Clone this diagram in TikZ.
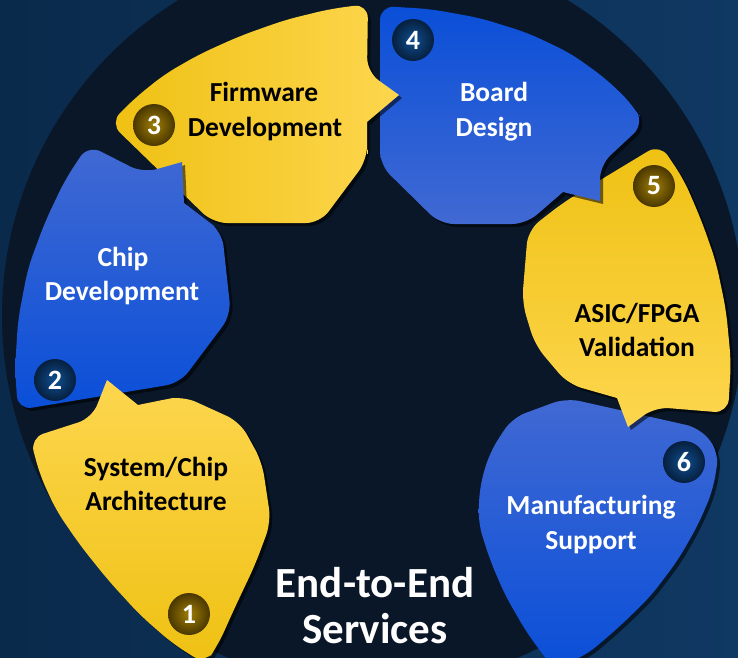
\documentclass[tikz,border=0pt]{standalone}
\usepackage{fontspec}
\setmainfont{Carlito}
\usetikzlibrary{shadows}
\definecolor{bgoutA}{HTML}{0A2A4B}
\definecolor{bgoutB}{HTML}{0F3862}
\definecolor{bgin}{HTML}{0A1729}
\definecolor{ylwA}{HTML}{EFC113}
\definecolor{ylwB}{HTML}{FDD64E}
\definecolor{bluA}{HTML}{0A4FD8}
\definecolor{bluB}{HTML}{4169D3}
\definecolor{goldIn}{HTML}{A07E06}
\definecolor{goldOut}{HTML}{4A3700}
\definecolor{navIn}{HTML}{0F4F90}
\definecolor{navOut}{HTML}{061F3E}
\tikzset{
  blob/.style={rounded corners=14pt,
    drop shadow={opacity=0.55, shadow xshift=3pt, shadow yshift=-3pt, fill=black}},
  lbl/.style={font=\fontsize{27.5}{34}\selectfont\bfseries, inner sep=0pt, anchor=base},
  lblY/.style={lbl, text=black},
  lblB/.style={lbl, text=white},
  badge/.style={circle, minimum size=42pt, inner sep=0pt, text=white,
    font=\fontsize{28}{28}\selectfont\bfseries},
  badgeY/.style={badge, inner color=goldIn, outer color=goldOut},
  badgeB/.style={badge, inner color=navIn, outer color=navOut},
  title/.style={font=\fontsize{43}{50}\selectfont\bfseries, text=white, inner sep=0pt, anchor=base},
}
\begin{document}
\begin{tikzpicture}[x=1pt,y=-1pt]
\useasboundingbox (0,0) rectangle (738,657);
\shade[left color=bgoutA, right color=bgoutB] (0,0) rectangle (738,657);
\fill[bgin] (373,316) circle[radius=371];

% shape 6 (blue, Manufacturing Support)
\path[blob, top color=bluB, bottom color=bluA]
  (633,413) -- (700,428) -- (719,452) -- (713,490) -- (698,525) -- (678,560)
  -- (650,597) -- (618,628) -- (585,656) -- (553,668) -- (527,633) -- (505,595)
  -- (490,560) -- (478,522) -- (480,485) -- (490,452) -- (512,418)
  -- (566,398) -- cycle;

% shape 5 (yellow, ASIC/FPGA Validation)
\path[blob, top color=ylwA, bottom color=ylwB]
  (564,202) -- (660,144) -- (684,180) -- (702,222) -- (716,262) -- (726,310)
  -- (731,362) -- (728,413)
  -- (655,407) [sharp corners] -- (628,427) -- (617,398) [rounded corners=14pt]
  -- (568,384) -- (535,345) -- (522,302) -- (528,230) -- cycle;

% shape 4 (blue, Board Design)
\path[blob, shading angle=135, top color=bluA, bottom color=bluB]
  (380,90) -- (380,6) -- (430,9) -- (480,18) -- (528,33) -- (570,53) -- (605,78)
  -- (632,104) -- (644,124)
  -- (600,165) [sharp corners] -- (600,201) -- (563,192) [rounded corners=14pt]
  -- (526,224) -- (440,224) -- (380,165) -- cycle;

% shape 3 (yellow, Firmware Development)
\path[blob, left color=ylwA, right color=ylwB]
  (367,140) -- (367,160) -- (320,223) -- (213,223) -- (110,123) -- (135,98)
  -- (165,74) -- (200,54) -- (240,36) -- (285,20) -- (330,9) -- (368,4)
  -- (367,72) [sharp corners] -- (399,95)
  -- (367,122) [rounded corners=14pt] -- cycle;

% shape 2 (blue, Chip Development)
\path[blob, top color=bluB, bottom color=bluA]
  (203,217.5) -- (222,232) -- (231,315) -- (180,383) -- (18,410) -- (15,370)
  -- (18,320) -- (28,268) -- (45,222) -- (65,180) -- (88,145)
  -- (143,173) [sharp corners] -- (182,162)
  -- (184,203) [rounded corners=14pt] -- cycle;

% shape 1 (yellow, System/Chip Architecture)
\path[blob, top color=ylwB, bottom color=ylwA]
  (160,400.5) -- (183,396) -- (240,422) -- (262,462) -- (271,522) -- (255,565)
  -- (236,605) -- (218,645) -- (205,664) -- (172,643) -- (140,615) -- (108,580)
  -- (80,545) -- (56,510) -- (40,475) -- (30,438)
  -- (92,418) [sharp corners] -- (107,380) -- (138,405) [rounded corners=14pt] -- cycle;

% labels
\node[lblY] (t1a) at (156,476) {System/Chip};
\node[lblY] (t1b) at (156,510) {Architecture};
\node[lblB] (t2a) at (123,266) {Chip};
\node[lblB] (t2b) at (122,300) {Development};
\node[lblY] (t3a) at (264,101) {Firmware};
\node[lblY] (t3b) at (265,136) {Development};
\node[lblB] (t4a) at (494,101) {Board};
\node[lblB] (t4b) at (494,136) {Design};
\node[lblY] (t5a) at (637,322) {ASIC/FPGA};
\node[lblY] (t5b) at (637,356) {Validation};
\node[lblB] (t6a) at (591,514) {Manufacturing};
\node[lblB] (t6b) at (591,549) {Support};

\node[title] (ttla) at (375,597) {End-to-End};
\node[title] (ttlb) at (375,643) {Services};

% badges
\node[badgeY] (b1) at (189,614) {1};
\node[badgeB] (b2) at (55,380) {2};
\node[badgeY] (b3) at (154,125) {3};
\node[badgeB] (b4) at (413,40) {4};
\node[badgeY] (b5) at (654,186) {5};
\node[badgeB] (b6) at (684,462) {6};
\end{tikzpicture}
\end{document}
